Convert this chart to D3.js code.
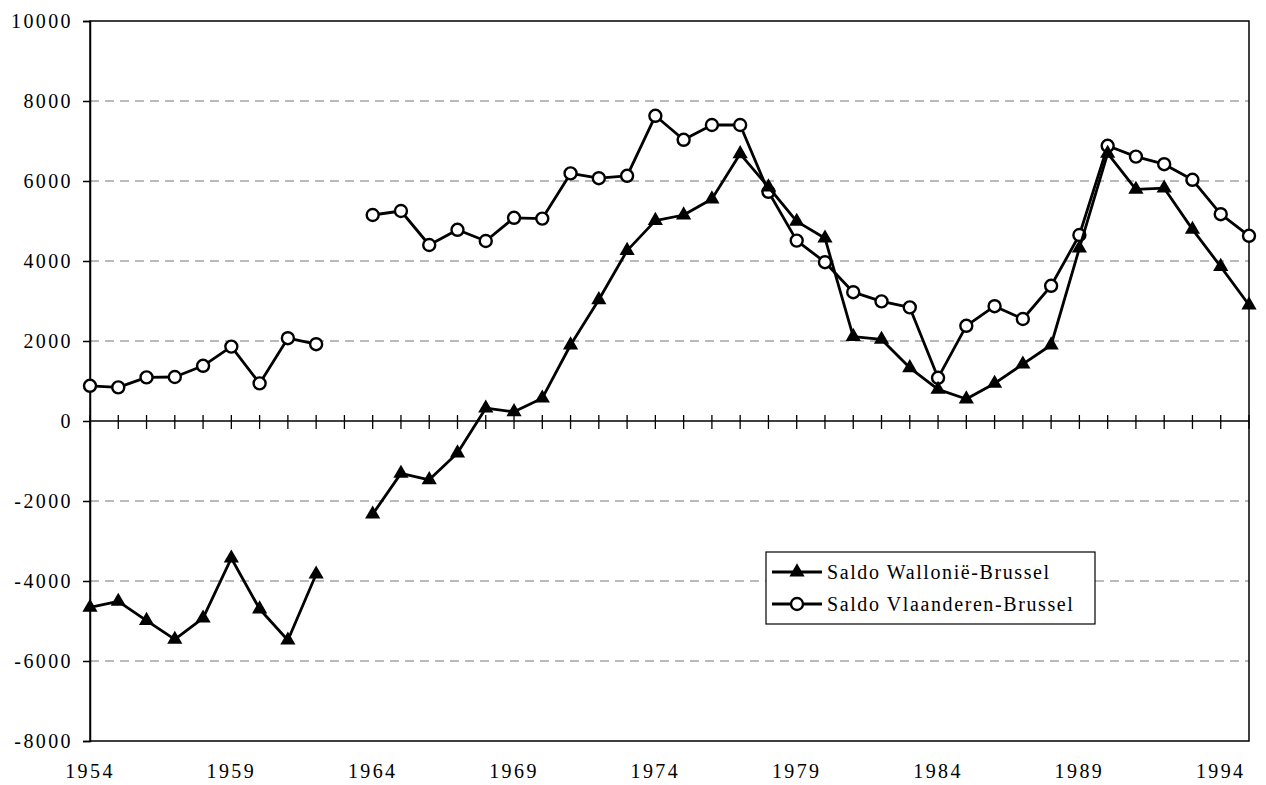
<!DOCTYPE html>
<html>
<head>
<meta charset="utf-8">
<script src="https://cdn.jsdelivr.net/npm/d3@7"></script>
<style>
  body { margin: 0; background: #fff; }
  text { font-family: "Liberation Serif", "DejaVu Serif", serif; fill: #000; }
</style>
</head>
<body>
<script>
const width = 1266;
const height = 785;

// years 1954-1995, 1963 missing in both series
const years = d3.range(1954, 1996);

const wallonie = [
  -4660, -4510, -4990, -5460, -4930, -3430, -4700, -5480, -3830, null,
  -2330, -1310, -1470, -800, 320, 230, 570, 1900, 3030, 4260,
  5010, 5150, 5550, 6680, 5850, 4990, 4570, 2110, 2040, 1330,
  790, 550, 940, 1420, 1900, 4320, 6690, 5790, 5820, 4790,
  3860, 2900
];

const vlaanderen = [
  880, 840, 1090, 1100, 1380, 1860, 940, 2070, 1920, null,
  5150, 5250, 4400, 4780, 4500, 5080, 5060, 6190, 6070, 6130,
  7630, 7030, 7400, 7400, 5730, 4510, 3970, 3220, 2990, 2840,
  1080, 2380, 2870, 2550, 3380, 4650, 6880, 6610, 6420, 6030,
  5170, 4630
];

const yTicks = [-8000, -6000, -4000, -2000, 0, 2000, 4000, 6000, 8000, 10000];
const xLabels = [1954, 1959, 1964, 1969, 1974, 1979, 1984, 1989, 1994];

const seriesNames = ['Saldo Wallonië-Brussel', 'Saldo Vlaanderen-Brussel'];

const margin = { top: 21, right: 17, bottom: 44, left: 90 };

const svg = d3.select('body')
  .append('svg')
  .attr('width', width)
  .attr('height', height);

const x = d3.scaleLinear()
  .domain([1954, 1995])
  .range([margin.left, width - margin.right]);

const y = d3.scaleLinear()
  .domain([-8000, 10000])
  .range([height - margin.bottom, margin.top]);

// dashed grid
svg.append('g')
  .selectAll('line')
  .data(yTicks.filter(d => d !== 0 && d !== 10000 && d !== -8000))
  .enter()
  .append('line')
  .attr('x1', x(1954))
  .attr('x2', x(1995))
  .attr('y1', d => y(d))
  .attr('y2', d => y(d))
  .attr('stroke', '#777')
  .attr('stroke-width', 1.2)
  .attr('stroke-dasharray', '9,6');

// plot frame
svg.append('rect')
  .attr('x', x(1954))
  .attr('y', y(10000))
  .attr('width', x(1995) - x(1954))
  .attr('height', y(-8000) - y(10000))
  .attr('fill', 'none')
  .attr('stroke', '#000')
  .attr('stroke-width', 1.5);

// y axis (plain hyphen for negatives, as in the original)
const yAxis = svg.append('g')
  .attr('transform', `translate(${x(1954)},0)`)
  .call(d3.axisLeft(y).tickValues(yTicks).tickSize(7).tickPadding(10).tickFormat(d => String(d)));
yAxis.select('.domain').attr('stroke-width', 1.5);
yAxis.selectAll('.tick line').attr('stroke-width', 1.5);
yAxis.selectAll('text')
  .style('font-size', '20px')
  .style('letter-spacing', '2.4px')
  .style('font-family', '"Liberation Serif", serif');

// zero line with year ticks crossing it
svg.append('line')
  .attr('x1', x(1954)).attr('x2', x(1995))
  .attr('y1', y(0)).attr('y2', y(0))
  .attr('stroke', '#000').attr('stroke-width', 1.5);

svg.append('g')
  .selectAll('line')
  .data(years)
  .enter()
  .append('line')
  .attr('x1', d => x(d)).attr('x2', d => x(d))
  .attr('y1', y(0) - 6).attr('y2', y(0) + 8)
  .attr('stroke', '#000').attr('stroke-width', 1.3);

// x labels
svg.append('g')
  .selectAll('text')
  .data(xLabels)
  .enter()
  .append('text')
  .attr('x', d => x(d))
  .attr('y', 778)
  .attr('text-anchor', 'middle')
  .style('font-size', '20px')
  .style('letter-spacing', '2.4px')
  .text(d => d);

const line = d3.line()
  .defined(d => d[1] !== null)
  .x(d => x(d[0]))
  .y(d => y(d[1]));

const wData = years.map((yr, i) => [yr, wallonie[i]]);
const vData = years.map((yr, i) => [yr, vlaanderen[i]]);

const tri = d3.symbol().type(d3.symbolTriangle).size(100);

function drawSeries(data, marker) {
  svg.append('path')
    .datum(data)
    .attr('d', line)
    .attr('fill', 'none')
    .attr('stroke', '#000')
    .attr('stroke-width', 2.8)
    .attr('stroke-linejoin', 'round');

  const pts = data.filter(d => d[1] !== null);
  if (marker === 'triangle') {
    svg.append('g')
      .selectAll('path')
      .data(pts)
      .enter()
      .append('path')
      .attr('d', tri)
      .attr('transform', d => `translate(${x(d[0])},${y(d[1])})`)
      .attr('fill', '#000');
  } else {
    svg.append('g')
      .selectAll('circle')
      .data(pts)
      .enter()
      .append('circle')
      .attr('cx', d => x(d[0]))
      .attr('cy', d => y(d[1]))
      .attr('r', 6)
      .attr('fill', '#fff')
      .attr('stroke', '#000')
      .attr('stroke-width', 2.4);
  }
}

drawSeries(vData, 'circle');
drawSeries(wData, 'triangle');

// legend
const legend = svg.append('g');
legend.append('rect')
  .attr('x', 766).attr('y', 552)
  .attr('width', 329).attr('height', 72)
  .attr('fill', '#fff')
  .attr('stroke', '#000')
  .attr('stroke-width', 1.2);

seriesNames.forEach((name, i) => {
  const cy = 572 + i * 32;
  legend.append('line')
    .attr('x1', 772).attr('x2', 822)
    .attr('y1', cy).attr('y2', cy)
    .attr('stroke', '#000').attr('stroke-width', 2.8);
  if (i === 0) {
    legend.append('path')
      .attr('d', tri)
      .attr('transform', `translate(797,${cy})`)
      .attr('fill', '#000');
  } else {
    legend.append('circle')
      .attr('cx', 797).attr('cy', cy).attr('r', 6)
      .attr('fill', '#fff').attr('stroke', '#000').attr('stroke-width', 2.4);
  }
  legend.append('text')
    .attr('x', 827)
    .attr('y', cy + 7)
    .style('font-size', '20px')
    .style('letter-spacing', '1.6px')
    .text(name);
});
</script>
</body>
</html>
